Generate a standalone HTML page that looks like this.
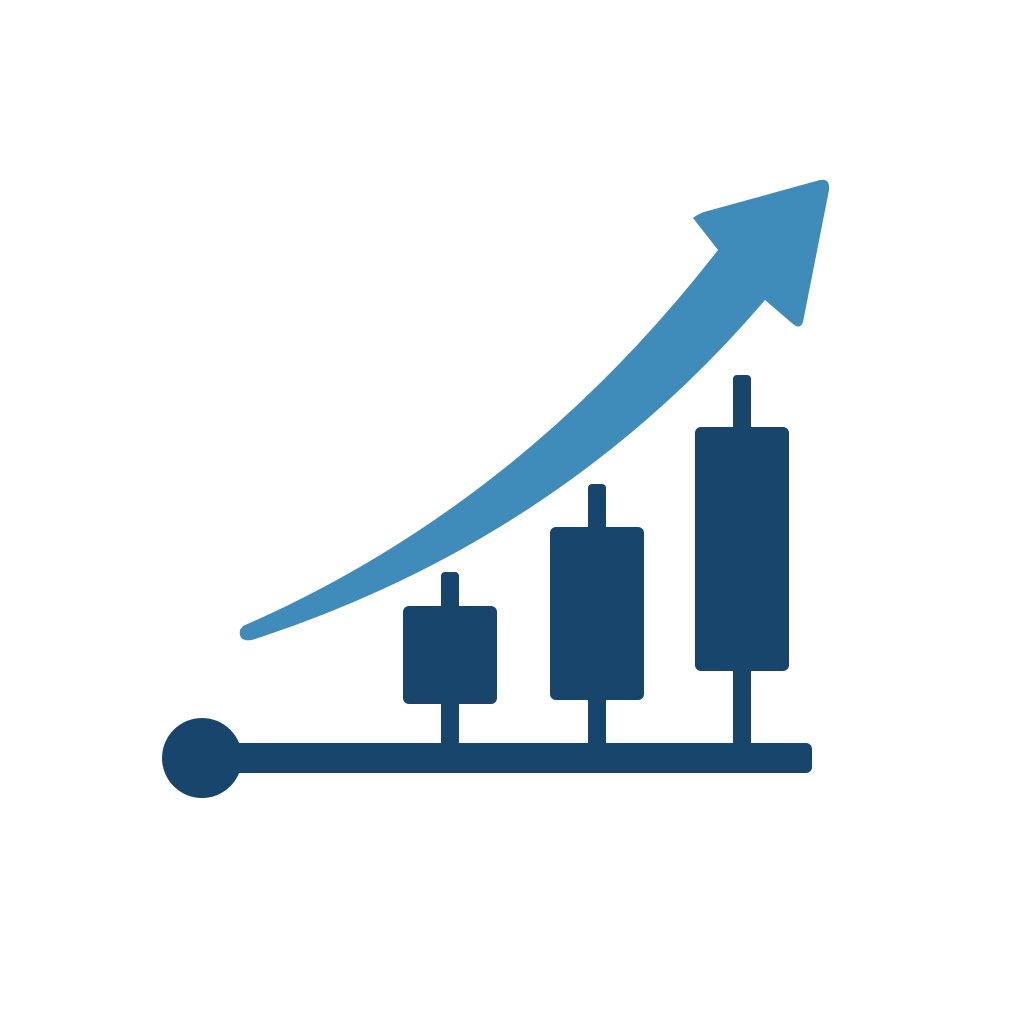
<!DOCTYPE html>
<html><head><meta charset="utf-8"><style>html,body{margin:0;padding:0;background:#fff}svg{display:block}</style></head>
<body>
<svg id="chart" width="1024" height="1024" viewBox="0 0 1024 1024" xmlns="http://www.w3.org/2000/svg">
  <rect width="1024" height="1024" fill="#fff"/>
  <path fill="#3f8bba"
    d="M243,626 Q520,505 718,250 L693,218 Q698,214 704,212 L820,180 Q830,178 829,190 L803,322 Q800,330 793,324 L765,300 Q560,540 252,640 Q238,642 240,630 Z"/>
  <g id="candles"></g>
  <rect x="200" y="743" width="612" height="30" rx="6" fill="#17456c"/>
  <circle cx="202" cy="758" r="40" fill="#17456c"/>
</svg>
<script>
const categories = ["c1", "c2", "c3"];
const highs = [186, 274, 383];
const bodyTops = [152, 231, 331];
const bodyBottoms = [54, 58, 87];
const lows = [0, 0, 0];
const centers = [450, 597, 742];
const baseY = 758;
function y(v){ return baseY - v; }
const NS = "http://www.w3.org/2000/svg";
const g = document.getElementById('candles');
categories.forEach((c,i)=>{
  const w = document.createElementNS(NS,'rect');
  
  
  w.setAttribute('x', centers[i]-9);
  w.setAttribute('y', y(highs[i]));
  w.setAttribute('width', 18);
  w.setAttribute('height', y(lows[i]) - y(highs[i]));
  w.setAttribute('rx', 4);
  w.setAttribute('fill', '#17456c');
  g.appendChild(w);
  const b = document.createElementNS(NS,'rect');
  
  
  b.setAttribute('x', centers[i]-47);
  b.setAttribute('y', y(bodyTops[i]));
  b.setAttribute('width', 94);
  b.setAttribute('height', y(bodyBottoms[i]) - y(bodyTops[i]));
  b.setAttribute('rx', 6);
  b.setAttribute('fill', '#17456c');
  g.appendChild(b);
});
</script>
</body></html>
